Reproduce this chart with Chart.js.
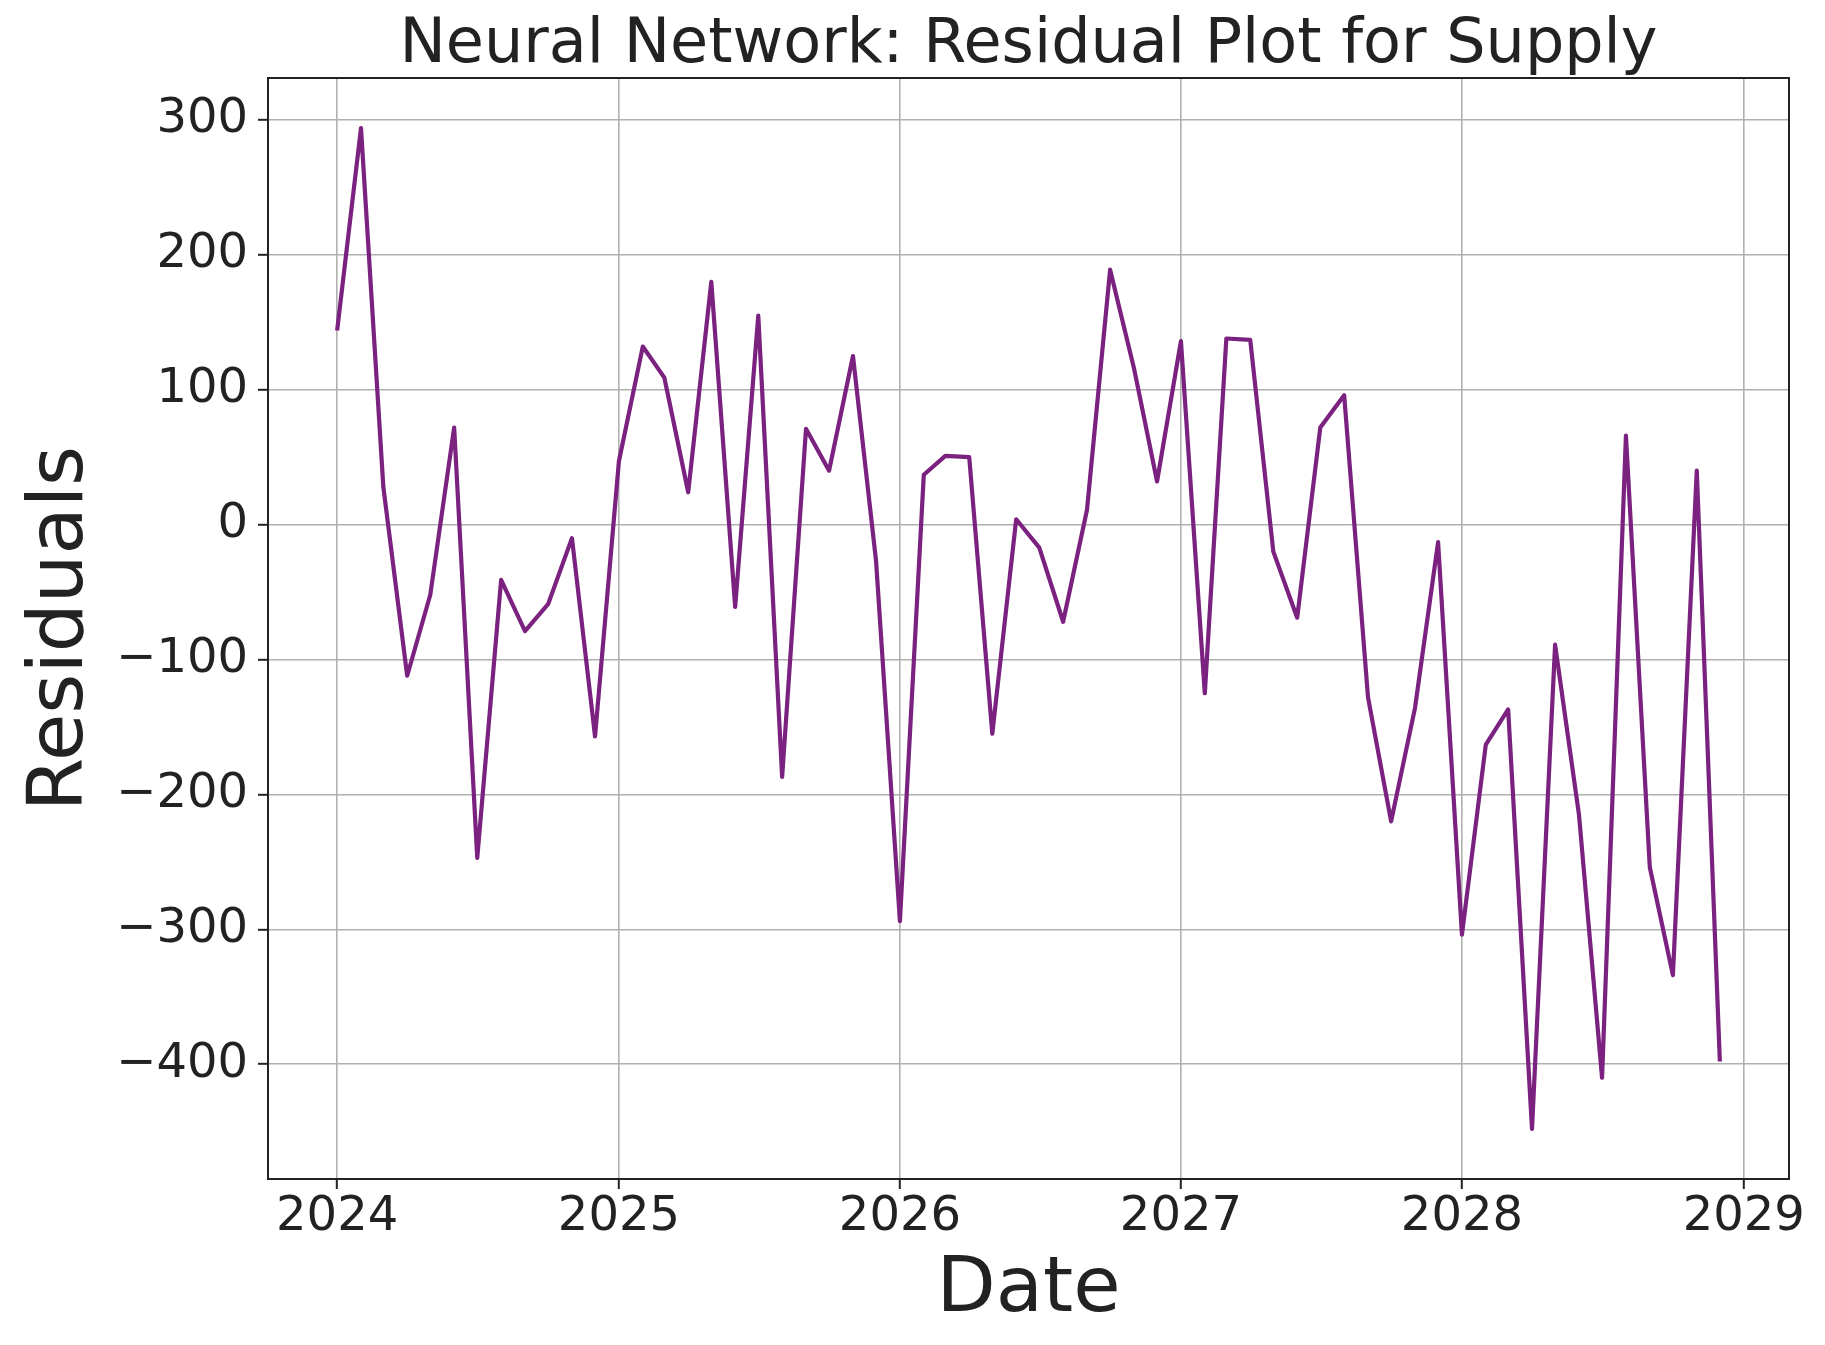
<!DOCTYPE html>
<html>
<head>
<meta charset="utf-8">
<title>Neural Network: Residual Plot for Supply</title>
<script src="https://cdn.jsdelivr.net/npm/chart.js@4.4.0/dist/chart.umd.min.js"></script>
<style>
  html, body { margin: 0; padding: 0; background: #ffffff; }
  #wrap { width: 1825px; height: 1345px; }
</style>
</head>
<body>
<div id="wrap"><canvas id="residualChart" width="1825" height="1345"></canvas></div>
<script>
// monthly dates (first of month)
const months = [
  '2024-01','2024-02','2024-03','2024-04','2024-05','2024-06','2024-07','2024-08','2024-09','2024-10','2024-11','2024-12',
  '2025-01','2025-02','2025-03','2025-04','2025-05','2025-06','2025-07','2025-08','2025-09','2025-10','2025-11','2025-12',
  '2026-01','2026-02','2026-03','2026-04','2026-05','2026-06','2026-07','2026-08','2026-09','2026-10','2026-11','2026-12',
  '2027-01','2027-02','2027-03','2027-04','2027-05','2027-06','2027-07','2027-08','2027-09','2027-10','2027-11','2027-12',
  '2028-01','2028-02','2028-03','2028-04','2028-05','2028-06','2028-07','2028-08','2028-09','2028-10','2028-11','2028-12'
];

// residuals
const residuals = [
  144, 294, 28, -112, -52, 72, -247, -41, -79, -59, -10, -157,
  47, 132, 109, 24, 180, -61, 155, -187, 71, 40, 125, -27,
  -294, 37, 51, 50, -155, 4, -17, -72, 11, 189, 116, 32,
  136, -125, 138, 137, -20, -69, 72, 96, -128, -220, -136, -13,
  -304, -163, -137, -448, -89, -215, -410, 66, -254, -334, 40, -398
];

const xTickYears = [2024, 2025, 2026, 2027, 2028, 2029];
const yTickValues = [-400, -300, -200, -100, 0, 100, 200, 300];

const FONT = 'DejaVu Sans';
const INK = '#222222';

function toTime(m) {
  const parts = m.split('-').map(Number);
  return Date.UTC(parts[0], parts[1] - 1, 1);
}

const xs = months.map(toTime);
const points = xs.map((x, i) => ({ x: x, y: residuals[i] }));

// matplotlib style 5% margins
const xPad = (xs[xs.length - 1] - xs[0]) * 0.05;
const yMin = Math.min(...residuals), yMax = Math.max(...residuals);
const yPad = (yMax - yMin) * 0.05;

// full box round the plot area, like matplotlib spines
const spines = {
  id: 'spines',
  afterDatasetsDraw(chart) {
    const a = chart.chartArea, ctx = chart.ctx;
    ctx.save();
    ctx.strokeStyle = INK;
    ctx.lineWidth = 2;
    ctx.strokeRect(a.left, a.top, a.right - a.left, a.bottom - a.top);
    ctx.restore();
  }
};

const ctx = document.getElementById('residualChart').getContext('2d');
const chart = new Chart(ctx, {
  type: 'line',
  data: {
    datasets: [{
      label: 'Residuals',
      data: points,
      borderColor: '#7b2280',
      borderWidth: 4.2,
      borderJoinStyle: 'round',
      pointRadius: 0,
      tension: 0,
      fill: false
    }]
  },
  options: {
    responsive: false,
    devicePixelRatio: 1,
    animation: false,
    layout: { padding: { left: 0, right: 36, top: 0, bottom: 0 } },
    plugins: {
      legend: { display: false },
      tooltip: { enabled: false },
      title: {
        display: true,
        fullSize: false,
        text: 'Neural Network: Residual Plot for Supply',
        color: INK,
        font: { family: FONT, size: 62, weight: 'normal', lineHeight: 1.0 },
        padding: { top: 15, bottom: 1 }
      }
    },
    scales: {
      x: {
        type: 'linear',
        min: xs[0] - xPad,
        max: xs[xs.length - 1] + xPad,
        afterBuildTicks(scale) {
          scale.ticks = xTickYears.map(y => ({ value: Date.UTC(y, 0, 1) }));
        },
        afterFit(scale) {
          scale.height = 166;
          scale.paddingLeft = 0;
          scale.paddingRight = 0;
        },
        ticks: {
          autoSkip: false,
          maxRotation: 0,
          padding: 5,
          color: INK,
          font: { family: FONT, size: 48, lineHeight: 1.0 },
          callback: v => String(new Date(v).getUTCFullYear())
        },
        grid: {
          color: '#b0b0b0',
          lineWidth: 1.6,
          tickLength: 10,
          tickColor: INK,
          tickWidth: 2
        },
        border: { display: false },
        title: {
          display: true,
          text: 'Date',
          color: INK,
          font: { family: FONT, size: 77, lineHeight: 1.2 },
          padding: { top: 0, bottom: 8 }
        }
      },
      y: {
        type: 'linear',
        min: yMin - yPad,
        max: yMax + yPad,
        afterBuildTicks(scale) {
          scale.ticks = yTickValues.map(v => ({ value: v }));
        },
        afterFit(scale) {
          scale.width = 268;
          scale.paddingTop = 0;
          scale.paddingBottom = 0;
        },
        ticks: {
          autoSkip: false,
          padding: 10,
          color: INK,
          font: { family: FONT, size: 48, lineHeight: 1.2 },
          callback: v => (v < 0 ? '\u2212' + Math.abs(v) : String(v))
        },
        grid: {
          color: '#b0b0b0',
          lineWidth: 1.6,
          tickLength: 10,
          tickColor: INK,
          tickWidth: 2
        },
        border: { display: false },
        title: {
          display: true,
          text: 'Residuals',
          color: INK,
          font: { family: FONT, size: 77, lineHeight: 1.2 },
          padding: { top: 16, bottom: 0 }
        }
      }
    }
  },
  plugins: [spines]
});
</script>
</body>
</html>
